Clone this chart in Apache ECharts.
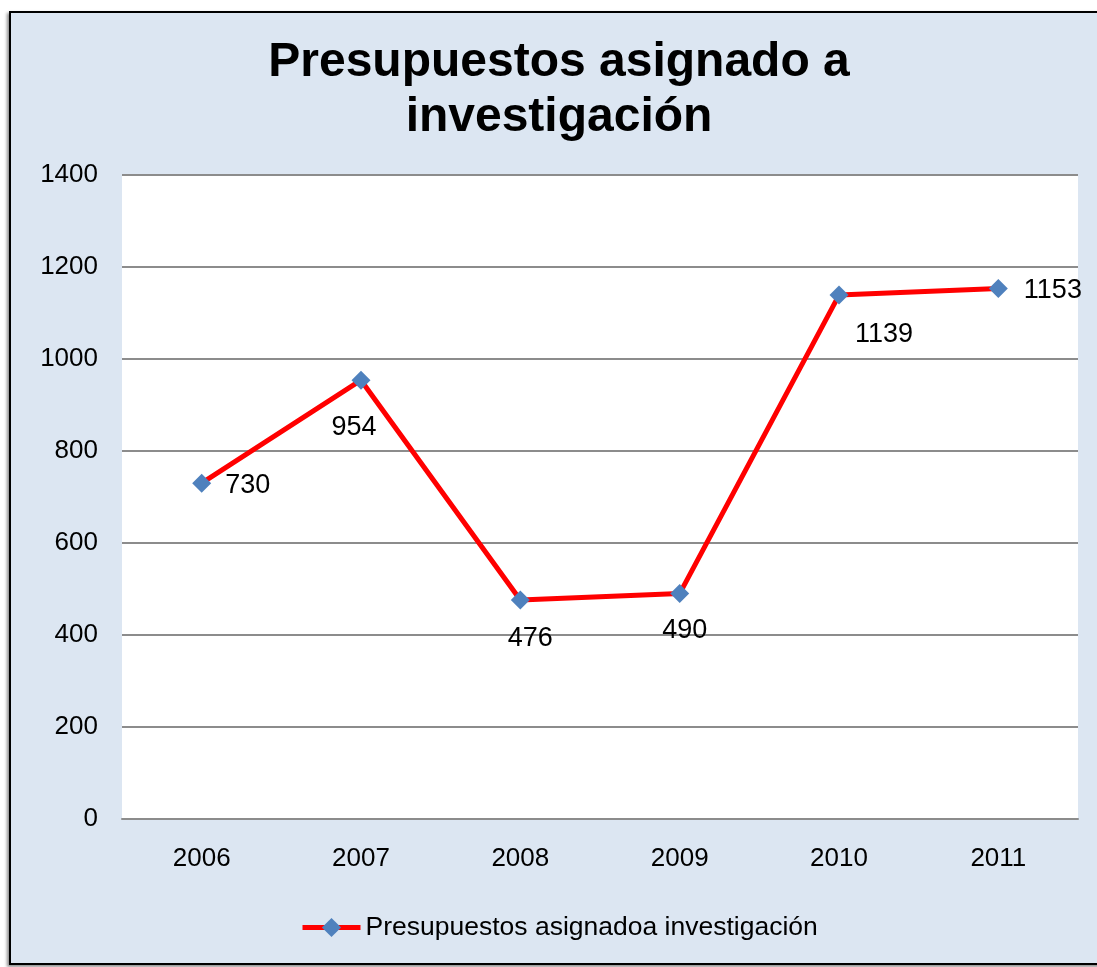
<!DOCTYPE html>
<html>
<head>
<meta charset="utf-8">
<script src="https://cdn.jsdelivr.net/npm/echarts@6/dist/echarts.min.js"></script>
<style>
html,body{margin:0;padding:0;background:#fff;width:1097px;height:967px;overflow:hidden;}
#frame{position:absolute;left:9px;top:11px;width:1130px;height:950px;background:#DCE6F2;border:2px solid #000;box-shadow:-2px 2px 3px rgba(0,0,0,0.45);}
#chart{position:absolute;left:0;top:0;width:1097px;height:967px;}
</style>
</head>
<body>
<div id="frame"></div>
<div id="chart"></div>
<script>
var categories = ['2006', '2007', '2008', '2009', '2010', '2011'];
var values = [730, 954, 476, 490, 1139, 1153];
var yTicks = [0, 200, 400, 600, 800, 1000, 1200, 1400];
var seriesName = 'Presupuestos asignadoa investigación';
var titleText = 'Presupuestos asignado a\ninvestigación';

var labelPos = [
  {position: 'right', distance: 14, offset: [0, 2]},
  {position: 'bottom', distance: 24, offset: [-7, 0]},
  {position: 'bottom', distance: 16, offset: [10, 0]},
  {position: 'bottom', distance: 14, offset: [5, 0]},
  {position: 'bottom', distance: 16, offset: [45, 0]},
  {position: 'right', distance: 16, offset: [0, 2]}
];

var FONT = '"Liberation Sans", Arial, sans-serif';
var chart = echarts.init(document.getElementById('chart'), null, {renderer: 'canvas'});
chart.setOption({
  backgroundColor: 'transparent',
  animation: false,
  title: {
    text: titleText,
    left: 554,
    textAlign: 'center',
    top: 30,
    textStyle: {fontFamily: FONT, fontWeight: 'bold', fontSize: 48, lineHeight: 55, color: '#000'}
  },
  legend: {
    bottom: 21,
    left: 295,
    itemWidth: 58,
    itemHeight: 24,
    itemGap: 6,
    lineStyle: {width: 5},
    textStyle: {fontFamily: FONT, fontSize: 26.5, color: '#000', padding: [0, 0, 0, 0]},
    data: [seriesName]
  },
  grid: {
    left: 122, right: 19, top: 175, bottom: 148,
    show: true, backgroundColor: '#fff', borderWidth: 0
  },
  xAxis: {
    type: 'category',
    data: categories,
    boundaryGap: true,
    axisLine: {show: true, lineStyle: {color: '#8c8c8c', width: 2}},
    axisTick: {show: false},
    axisLabel: {fontFamily: FONT, fontSize: 26, color: '#000', margin: 27}
  },
  yAxis: {
    type: 'value',
    min: yTicks[0],
    max: yTicks[yTicks.length - 1],
    interval: 200,
    axisLine: {show: false},
    axisTick: {show: false},
    splitLine: {lineStyle: {color: '#8c8c8c', width: 2}},
    axisLabel: {fontFamily: FONT, fontSize: 26, color: '#000', margin: 24,
      formatter: function (v) { return String(v); }}
  },
  series: [{
    name: seriesName,
    type: 'line',
    data: values.map(function (v, i) {
      return {value: v, label: labelPos[i]};
    }),
    symbol: 'diamond',
    symbolSize: 19,
    showAllSymbol: true,
    lineStyle: {color: '#FF0000', width: 5},
    itemStyle: {color: '#4F81BD', borderColor: '#4F81BD', borderWidth: 0},
    color: '#FF0000',
    label: {show: true, fontFamily: FONT, fontSize: 27, color: '#000'}
  }]
});
</script>
</body>
</html>
